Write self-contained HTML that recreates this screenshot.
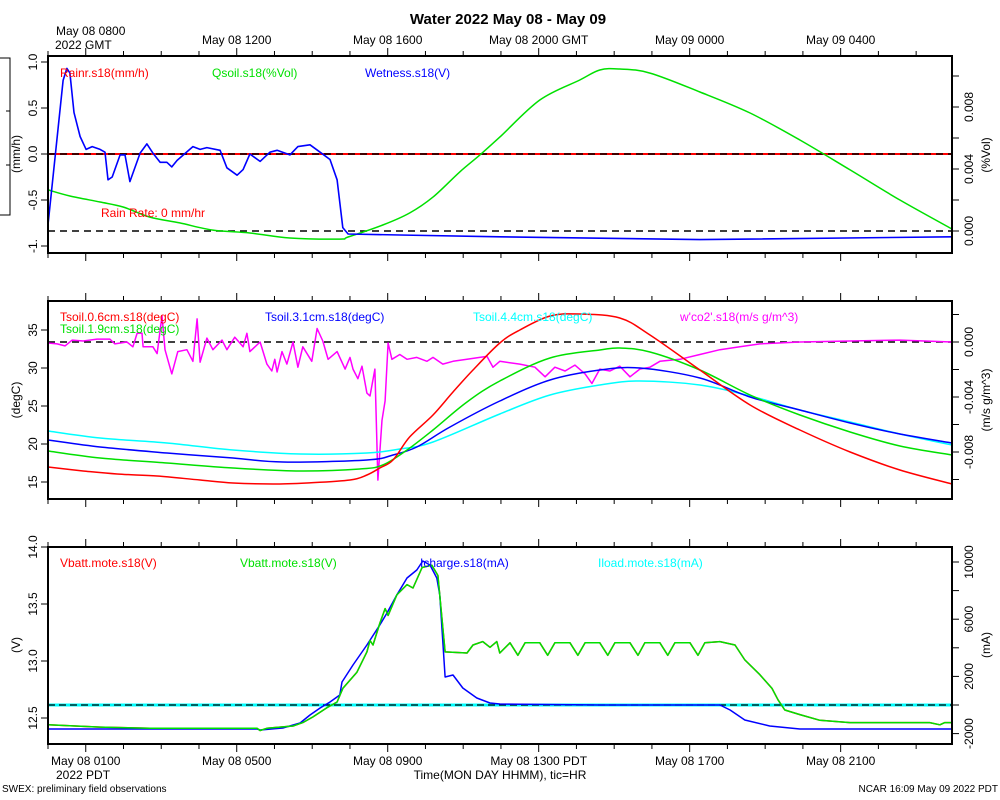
<!DOCTYPE html>
<html><head><meta charset="utf-8"><style>
html,body{margin:0;padding:0;background:#fff;}
svg{display:block;font-family:"Liberation Sans",sans-serif;}
</style></head><body>
<svg id="chart" width="1000" height="800" viewBox="0 0 1000 800" xmlns="http://www.w3.org/2000/svg">
<text x="508" y="24" font-size="15" font-weight="bold" text-anchor="middle">Water 2022 May 08 - May 09</text>
<g stroke="#000" stroke-width="1" fill="none">
<path d="M0 58 H10 V215 H0 M6 111 H10 M6 165 H10"/>
</g>
<text x="56" y="35" font-size="12">May 08 0800</text>
<text x="55" y="49" font-size="12">2022 GMT</text>
<text x="56" y="779" font-size="12">2022 PDT</text>
<text x="500" y="779" font-size="12" text-anchor="middle">Time(MON DAY HHMM), tic=HR</text>
<text x="2" y="792" font-size="10">SWEX: preliminary field observations</text>
<text x="998" y="792" font-size="10" text-anchor="end">NCAR 16:09 May 09 2022 PDT</text>
<g id="plots"></g>
</svg>
<script>
// ---------- time axis ----------
const tStart = 7.0, tEnd = 30.95;
const topTickHours = [12, 16, 20, 24, 28];
const topTickLabels = ["May 08 1200", "May 08 1600", "May 08 2000 GMT", "May 09 0000", "May 09 0400"];
const bottomTickHours = [8, 12, 16, 20, 24, 28];
const bottomTickLabels = ["May 08 0100", "May 08 0500", "May 08 0900", "May 08 1300 PDT", "May 08 1700", "May 08 2100"];

// ---------- panel 1 ----------
const wetT = [7.00,7.40,7.50,7.58,7.69,7.85,8.01,8.17,8.38,8.51,8.59,8.70,8.91,9.04,9.17,9.44,9.62,9.78,9.97,10.15,10.28,10.42,10.84,11.03,11.21,11.56,11.74,12.01,12.17,12.35,12.62,12.88,13.07,13.41,13.62,13.94,14.21,14.47,14.66,14.81,14.95,16.32,18.97,24.27,30.95];
const wetV = [-0.77,0.80,0.93,0.88,0.45,0.19,0.05,0.08,0.05,0.02,-0.28,-0.25,-0.01,-0.01,-0.30,0.01,0.11,0.01,-0.09,-0.09,-0.14,-0.07,0.08,0.05,0.07,0.04,-0.15,-0.23,-0.17,0.0,-0.08,0.02,0.04,-0.01,0.08,0.10,0.02,-0.06,-0.28,-0.80,-0.87,-0.88,-0.90,-0.93,-0.90];
const qsoilT = [7.00,7.58,8.38,8.99,9.70,10.49,11.37,12.35,13.41,14.73,14.95,15.87,16.58,17.20,17.91,18.44,18.97,20.03,21.09,21.62,22.15,22.95,24.27,25.60,26.92,28.25,29.57,30.95];
const qsoilV = [0.00265,0.00226,0.00187,0.00155,0.00090,0.00052,0.00006,-0.00013,-0.00045,-0.00052,-0.00039,0.00039,0.00116,0.00219,0.00381,0.00490,0.00606,0.00845,0.00974,0.01039,0.01045,0.01019,0.00897,0.00761,0.00587,0.00394,0.00200,0.00013];
const rainT = [7.0, 30.95];
const rainV = [0, 0];
const p1LeftTicks = [1.0, 0.5, 0.0, -0.5, -1.0];
const p1LeftLabels = ["1.0", "0.5", "0.0", "-0.5", "-1."];
const p1RightTicks = [0, 0.002, 0.004, 0.006, 0.008, 0.010];
const p1RightLabelVals = [0.008, 0.004, 0.000];
const p1RightLabels = ["0.008", "0.004", "0.000"];

// ---------- panel 2 ----------
const t06T = [7.00,7.93,8.83,9.89,11.03,11.90,12.96,13.86,15.00,15.45,15.79,16.14,16.58,17.20,17.73,18.26,18.97,19.50,20.30,21.09,22.15,22.95,24.27,25.60,26.92,28.25,29.57,30.95];
const t06V = [16.97,16.45,16.05,15.79,15.26,14.87,14.74,14.87,15.26,15.92,16.84,17.89,20.92,23.82,26.84,29.74,33.29,35.0,36.84,37.1,36.58,34.34,29.74,25.13,21.84,18.95,16.58,14.74];
const t19T = [7.00,8.38,10.15,11.90,13.68,15.26,15.87,16.51,17.20,18.10,18.97,20.30,21.62,22.15,22.95,24.27,25.60,26.92,28.25,29.57,30.95];
const t19V = [19.08,18.16,17.5,16.84,16.45,16.71,17.24,19.21,21.84,25.53,28.29,31.32,32.37,32.63,32.11,29.74,26.45,23.82,21.58,19.74,18.55];
const t31T = [7.00,8.38,10.15,11.90,13.22,15.45,16.14,16.77,17.65,18.97,20.30,21.62,22.68,24.27,25.60,26.92,28.25,29.57,30.95];
const t31V = [20.53,19.61,18.82,18.16,17.63,17.89,18.55,19.61,22.24,25.66,28.42,29.74,30.0,28.68,26.18,24.47,22.76,21.32,20.13];
const t44T = [7.00,8.38,10.15,11.90,13.68,15.45,16.32,17.20,18.97,20.30,21.62,22.68,24.27,25.60,26.92,28.25,29.57,30.95];
const t44V = [21.71,20.79,20.13,19.21,18.68,18.82,19.34,20.26,23.95,26.45,27.76,28.29,27.76,26.32,24.47,22.89,21.32,19.87];
const co2T = [7.00,7.24,7.45,7.64,7.93,8.30,8.64,8.77,9.09,9.25,9.36,9.49,9.52,9.78,9.89,10.02,10.10,10.28,10.44,10.68,10.84,10.95,11.03,11.21,11.37,11.61,11.74,11.95,12.17,12.27,12.35,12.62,12.80,12.93,13.01,13.07,13.20,13.33,13.49,13.62,13.75,13.99,14.13,14.28,14.42,14.66,14.87,15.00,15.08,15.21,15.32,15.45,15.53,15.66,15.74,15.85,15.93,16.01,16.11,16.32,16.51,16.77,17.04,17.20,17.46,17.73,18.10,18.44,18.63,18.79,18.97,19.50,19.90,20.17,20.43,20.70,20.96,21.23,21.41,21.62,21.89,22.15,22.42,22.68,22.95,23.21,23.74,24.27,24.80,25.33,25.86,26.92,28.25,29.57,30.95];
const co2V = [-0.00007,-0.00014,-0.00028,0.00014,0.00007,0.00021,0.00021,-0.00014,0,-0.00035,0.00063,0.00063,-0.00035,-0.00035,-0.00084,0.0019,-0.00056,-0.00232,-0.0007,-0.00056,-0.0014,0.00168,-0.00147,0.00028,-0.00056,0.00014,-0.00056,0.00035,-0.00035,0.00063,-0.0007,0,-0.00161,-0.00211,-0.00126,-0.00218,-0.0007,-0.00161,0,-0.00183,-0.00035,-0.0014,0.00098,0.00007,-0.00126,-0.0007,-0.00197,-0.00112,-0.00197,-0.00267,-0.00176,-0.00372,-0.00393,-0.00197,-0.01004,-0.00569,-0.00428,-0.00007,-0.00126,-0.00091,-0.00126,-0.00112,-0.0014,-0.00112,-0.00161,-0.0014,-0.00126,-0.00112,-0.00105,-0.00183,-0.0014,-0.00161,-0.00183,-0.00253,-0.00183,-0.00211,-0.00168,-0.00232,-0.00302,-0.00197,-0.00211,-0.00176,-0.00253,-0.00197,-0.00183,-0.0014,-0.00126,-0.00091,-0.00056,-0.00035,-0.00014,0,0.00007,0.00014,0];
const p2LeftTicks = [35, 30, 25, 20, 15];
const p2LeftLabels = ["35", "30", "25", "20", "15"];
const p2RightTicks = [0.002, 0, -0.002, -0.004, -0.006, -0.008, -0.010];
const p2RightLabelVals = [0, -0.004, -0.008];
const p2RightLabels = ["0.000", "-0.004", "-0.008"];

// ---------- panel 3 ----------
const vbT = [7.00,8.38,9.70,11.03,12.54,12.62,12.80,13.49,13.75,14.02,14.39,14.66,14.81,15.18,15.45,15.53,15.61,15.79,15.93,16.01,16.24,16.51,16.67,16.91,17.17,17.33,17.52,18.10,18.26,18.52,18.71,18.89,18.97,19.24,19.45,19.64,20.03,20.24,20.43,20.83,21.04,21.23,21.62,21.83,22.02,22.42,22.63,22.81,23.21,23.42,23.61,24.01,24.22,24.40,24.80,25.20,25.46,25.86,26.18,26.34,26.52,26.92,27.45,28.25,29.57,30.36,30.63,30.76,30.95];
const vbV = [12.44,12.42,12.41,12.41,12.41,12.39,12.41,12.43,12.46,12.51,12.59,12.64,12.76,12.90,13.08,13.18,13.14,13.33,13.46,13.40,13.58,13.67,13.64,13.82,13.84,13.75,13.08,13.07,13.14,13.17,13.12,13.17,13.07,13.16,13.05,13.16,13.16,13.05,13.16,13.16,13.05,13.16,13.16,13.05,13.16,13.16,13.05,13.16,13.16,13.05,13.16,13.16,13.05,13.16,13.17,13.14,13.01,12.88,12.76,12.66,12.57,12.53,12.48,12.46,12.46,12.46,12.44,12.46,12.46];
const ichT = [7.00,12.54,12.62,13.22,13.68,13.94,14.21,14.47,14.73,14.79,15.08,15.45,15.79,15.98,16.24,16.51,16.77,16.93,17.12,17.30,17.38,17.52,17.73,17.99,18.36,18.71,18.97,21.62,24.80,25.07,25.46,26.12,26.92,30.95];
const ichV = [-1678,-1678,-1748,-1608,-1259,-699,-210,210,699,1608,2797,4196,5594,6434,7692,8881,9441,10070,9790,8881,7692,1958,2098,1189,490,140,70,0,0,-350,-1049,-1469,-1678,-1678];
const iloadT = [7.0, 30.95];
const iloadV = [0, 0];
const p3LeftTicks = [14.0, 13.5, 13.0, 12.5];
const p3LeftLabels = ["14.0", "13.5", "13.0", "12.5"];
const p3RightTicks = [10000, 8000, 6000, 4000, 2000, 0, -2000];
const p3RightLabelVals = [10000, 6000, 2000, -2000];
const p3RightLabels = ["10000", "6000", "2000", "-2000"];

const NS = "http://www.w3.org/2000/svg";
const root = document.getElementById("plots");
const X0 = 48, X1 = 952;
function xs(h){ return X0 + (h - tStart) * (X1 - X0) / (tEnd - tStart); }
function mk(tag, attrs, parent){
  const e = document.createElementNS(NS, tag);
  for (const k in attrs) e.setAttribute(k, attrs[k]);
  (parent || root).appendChild(e);
  return e;
}
function linScale(v0, y0, v1, y1){ return v => y0 + (v - v0) * (y1 - y0) / (v1 - v0); }

function series(g, T, V, sc, color, name, w, smooth){
  const P = T.map((t, i) => [xs(t), sc(V[i])]);
  let d = "M" + P[0][0].toFixed(1) + " " + P[0][1].toFixed(1);
  for (let i = 1; i < P.length; i++) {
    if (smooth) {
      const p0 = P[Math.max(0, i - 2)], p1 = P[i - 1], p2 = P[i], p3 = P[Math.min(P.length - 1, i + 1)];
      const c1x = p1[0] + (p2[0] - p0[0]) / 6, c1y = p1[1] + (p2[1] - p0[1]) / 6;
      const c2x = p2[0] - (p3[0] - p1[0]) / 6, c2y = p2[1] - (p3[1] - p1[1]) / 6;
      d += "C" + c1x.toFixed(1) + " " + c1y.toFixed(1) + " " + c2x.toFixed(1) + " " + c2y.toFixed(1) + " " + p2[0].toFixed(1) + " " + p2[1].toFixed(1);
    } else {
      d += "L" + P[i][0].toFixed(1) + " " + P[i][1].toFixed(1);
    }
  }
  const p = mk("path", {d: d, fill: "none", stroke: color, "stroke-width": w || 1.5, "stroke-linejoin": "round"}, g);
  
  
}
function dashed(g, y, name){
  const l = mk("line", {x1: X0, x2: X1, y1: y, y2: y, stroke: "#000", "stroke-width": 1.5, "stroke-dasharray": "7,5"}, g);
  
  
}
function txt(g, x, y, s, color, name, extra){
  const t = mk("text", Object.assign({x: x, y: y, fill: color, "font-size": 12}, extra || {}), g);
  t.textContent = s;
  
  
  return t;
}
function rotTxt(g, x, y, s, name, size){
  const t = mk("text", {x: 0, y: 0, "font-size": size || 12, "text-anchor": "middle", transform: "translate(" + x + "," + y + ") rotate(-90)"}, g);
  t.textContent = s;
  
  
}
function frame(g, top, bot, pname){
  for (let h = 7; h <= 30; h++) {
    const x = xs(h);
    if (x < X0 - 0.5 || x > X1) continue;
    const major = (h % 4 === 0);
    const len = major ? 8 : 5;
    const a = mk("line", {x1: x, x2: x, y1: top, y2: top - len, stroke: "#000", "stroke-width": 1}, g);
    
    
    const b = mk("line", {x1: x, x2: x, y1: bot, y2: bot + len, stroke: "#000", "stroke-width": 1}, g);
    
    
  }
  const r = mk("rect", {x: X0, y: top, width: X1 - X0, height: bot - top, fill: "none", stroke: "#000", "stroke-width": 2}, g);
  
  
}
function leftAxis(g, ticks, labels, sc, title, titleY, pname){
  ticks.forEach((v, i) => {
    const y = sc(v);
    const l = mk("line", {x1: X0, x2: X0 - 7, y1: y, y2: y, stroke: "#000", "stroke-width": 1}, g);
    
    
    rotTxt(g, 37, y, labels[i], pname + '-left-tick-label');
  });
  rotTxt(g, 20, titleY, title, pname + '-left-axis-title');
}
function rightAxis(g, ticks, lvals, labels, sc, title, titleY, pname){
  ticks.forEach(v => {
    const y = sc(v);
    const l = mk("line", {x1: X1, x2: X1 + 7, y1: y, y2: y, stroke: "#000", "stroke-width": 1}, g);
    
    
  });
  lvals.forEach((v, i) => rotTxt(g, 973, sc(v), labels[i], pname + '-right-tick-label'));
  rotTxt(g, 990, titleY, title, pname + '-right-axis-title');
}

// ---- Panel 1 ----
const g1 = mk("g", {});


const p1L = linScale(0, 154, 1, 62);
const p1R = linScale(0, 231, 0.004, 169);
series(g1, rainT, rainV, p1L, "#ff0000", "rainr-line", 2);
dashed(g1, p1L(0), "zero-dashed-line");
dashed(g1, p1R(0), "qsoil-zero-dashed-line");
series(g1, qsoilT, qsoilV, p1R, "#00e000", "qsoil-line", 1.5, true);
series(g1, wetT, wetV, p1L, "#0000ff", "wetness-line", 1.6);
frame(g1, 56, 253, "panel1");
leftAxis(g1, p1LeftTicks, p1LeftLabels, p1L, "(mm/h)", 154, "panel1");
rightAxis(g1, p1RightTicks, p1RightLabelVals, p1RightLabels, p1R, "(%Vol)", 155, "panel1");
txt(g1, 60, 77, "Rainr.s18(mm/h)", "#ff0000", "legend-rainr");
txt(g1, 212, 77, "Qsoil.s18(%Vol)", "#00e000", "legend-qsoil");
txt(g1, 365, 77, "Wetness.s18(V)", "#0000ff", "legend-wetness");
txt(g1, 101, 217, "Rain Rate: 0 mm/hr", "#ff0000", "rain-rate-annotation");
topTickHours.forEach((h, i) => txt(g1, xs(h), 44, topTickLabels[i], "#000", "top-time-label", {"text-anchor": "middle"}));

// ---- Panel 2 ----
const g2 = mk("g", {});


const p2L = linScale(15, 482, 35, 330);
const p2R = linScale(0, 342, -0.004, 397);
dashed(g2, p2R(0), "co2-zero-dashed-line");
series(g2, co2T, co2V, p2R, "#ff00ff", "wco2-line", 1.5);
series(g2, t44T, t44V, p2L, "#00ffff", "tsoil-4.4cm-line", 1.5, true);
series(g2, t31T, t31V, p2L, "#0000ff", "tsoil-3.1cm-line", 1.5, true);
series(g2, t19T, t19V, p2L, "#00e000", "tsoil-1.9cm-line", 1.5, true);
series(g2, t06T, t06V, p2L, "#ff0000", "tsoil-0.6cm-line", 1.5, true);
frame(g2, 301, 499, "panel2");
leftAxis(g2, p2LeftTicks, p2LeftLabels, p2L, "(degC)", 400, "panel2");
rightAxis(g2, p2RightTicks, p2RightLabelVals, p2RightLabels, p2R, "(m/s g/m^3)", 400, "panel2");
txt(g2, 60, 321, "Tsoil.0.6cm.s18(degC)", "#ff0000", "legend-tsoil-0.6cm");
txt(g2, 60, 333, "Tsoil.1.9cm.s18(degC)", "#00e000", "legend-tsoil-1.9cm");
txt(g2, 265, 321, "Tsoil.3.1cm.s18(degC)", "#0000ff", "legend-tsoil-3.1cm");
txt(g2, 473, 321, "Tsoil.4.4cm.s18(degC)", "#00ffff", "legend-tsoil-4.4cm");
txt(g2, 680, 321, "w'co2'.s18(m/s g/m^3)", "#ff00ff", "legend-wco2");

// ---- Panel 3 ----
const g3 = mk("g", {});


const p3L = linScale(14, 547, 12.5, 718);
const p3R = linScale(0, 705, 2000, 676.4);
series(g3, iloadT, iloadV, p3R, "#00ffff", "iload-line", 3);
const dl = mk("line", {x1: X0, x2: X1, y1: p3R(0), y2: p3R(0), stroke: "#000", "stroke-width": 1.2, "stroke-dasharray": "7,4"}, g3);


series(g3, vbT, vbV, p3L, "#ff0000", "vbatt-red-line", 1.5);
series(g3, ichT, ichV, p3R, "#0000ff", "icharge-line", 1.5);
series(g3, vbT, vbV, p3L, "#00e000", "vbatt-green-line", 1.5);
frame(g3, 547, 744, "panel3");
leftAxis(g3, p3LeftTicks, p3LeftLabels, p3L, "(V)", 645, "panel3");
rightAxis(g3, p3RightTicks, p3RightLabelVals, p3RightLabels, p3R, "(mA)", 645, "panel3");
txt(g3, 60, 567, "Vbatt.mote.s18(V)", "#ff0000", "legend-vbatt-red");
txt(g3, 240, 567, "Vbatt.mote.s18(V)", "#00e000", "legend-vbatt-green");
txt(g3, 420, 567, "Icharge.s18(mA)", "#0000ff", "legend-icharge");
txt(g3, 598, 567, "Iload.mote.s18(mA)", "#00ffff", "legend-iload");
bottomTickHours.forEach((h, i) => txt(g3, xs(h), 765, bottomTickLabels[i], "#000", "bottom-time-label", {"text-anchor": "middle"}));
</script>
</body></html>
